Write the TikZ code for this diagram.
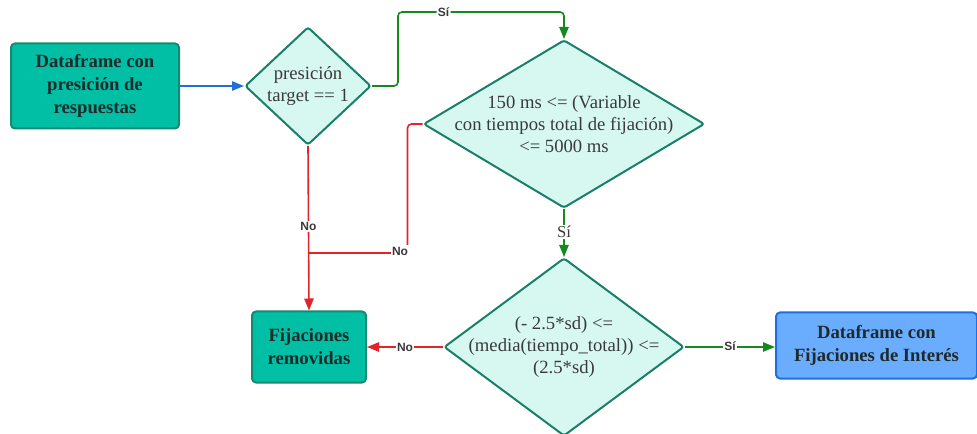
\documentclass[tikz,border=0pt]{standalone}
\usepackage{fontspec}
\setmainfont{Liberation Serif}
\newfontfamily\lblfont{Liberation Sans}
\usetikzlibrary{shapes.geometric,arrows.meta}

\definecolor{boxteal}{HTML}{00BFA5}
\definecolor{boxedge}{HTML}{168A70}
\definecolor{decfill}{HTML}{D6F8F1}
\definecolor{decedge}{HTML}{1A7F68}
\definecolor{outfill}{HTML}{6AADFF}
\definecolor{outedge}{HTML}{1E6FE0}
\definecolor{nored}{HTML}{E2232A}
\definecolor{yesgreen}{HTML}{14891E}
\definecolor{flowblue}{HTML}{2070D8}
\definecolor{textdark}{HTML}{1F2A2A}
\definecolor{textgray}{HTML}{3A3A3A}

\begin{document}
\begin{tikzpicture}[x=0.75pt,y=-0.75pt,
  procbox/.style={draw=boxedge, fill=boxteal, line width=1.5pt, rounded corners=3pt,
    inner sep=0pt, align=center, text=textdark,
    font=\fontsize{14}{17.25}\selectfont\bfseries},
  outbox/.style={procbox, draw=outedge, fill=outfill},
  decision/.style={diamond, draw=decedge, fill=decfill, line width=1.5pt,
    rounded corners=2pt, inner sep=0pt},
  dtext/.style={align=center, text=textgray, font=\fontsize{14}{16.5}\selectfont},
  conn/.style={line width=1.2pt, -{Triangle[length=9pt,width=7pt]}},
  yes/.style={conn, draw=yesgreen, -{Triangle[length=9pt,width=7pt,fill=yesgreen]}},
  no/.style={conn, draw=nored, -{Triangle[length=9pt,width=7pt,fill=nored]}},
  lbl/.style={fill=white, inner sep=1pt, text=textgray, font=\lblfont\fontsize{9}{10}\selectfont\bfseries},
  lblserif/.style={fill=white, inner sep=1pt, text=textgray, font=\fontsize{12.5}{14}\selectfont},
]
\useasboundingbox (0,0) rectangle (977,434);
\clip (0,0) rectangle (977,434);

% process boxes
\node[procbox, minimum width=126pt, minimum height=63.75pt] (df) at (95,86)
  {Dataframe con\\presición de\\respuestas};
\node[procbox, minimum width=85.5pt, minimum height=53.25pt] (fij) at (309,347)
  {Fijaciones\\removidas};
\node[outbox, minimum width=150.75pt, minimum height=49.5pt] (out) at (876.5,345.5)
  {Dataframe con\\Fijaciones de Interés};

% decisions
\node[decision, minimum width=94.5pt, minimum height=88.5pt] (d1) at (308,86)
  {};
\node[dtext] (d1t) at (d1.center) {presición\\target == 1};
\node[decision, minimum width=210.75pt, minimum height=126pt] (d2) at (564,124)
  {};
\node[dtext] (d2t) at (d2.center) {150 ms <= (Variable\\con tiempos total de fijación)\\<= 5000 ms};
\node[decision, minimum width=180pt, minimum height=133.5pt] (d3) at (564,347)
  {};
\node[dtext] (d3t) at (d3.center) {(- 2.5*sd) <=\\(media(tiempo\_total)) <=\\(2.5*sd)};

% bend and junction points
\coordinate (sitop) at (564,12);
\coordinate (merge) at (309,253);

% connectors
\draw[conn, draw=flowblue, -{Triangle[length=9pt,width=7pt,fill=flowblue]}] (df.east) -- (d1.west);
\draw[yes, rounded corners=3pt] (d1.east) -- ++(26,0) -- ++(0,-74)
  -- node[lbl, pos=0.275] {Sí} (sitop) -- (d2.north);
\draw[no] (d1.south) -- node[lbl, pos=0.49] {No} (fij.north);
\draw[line width=1.2pt, draw=nored, rounded corners=3pt] (d2.west) -- ++(-15,0)
  -- ++(0,129) -- (merge);
\node[lbl] (no2) at (400,251) {No};
\draw[yes] (d2.south) -- node[lblserif, pos=0.48] {Sí} (d3.north);
\draw[no] (d3.west) -- node[lbl, midway] {No} (fij.east |- d3.west);
\draw[yes] (d3.east) -- node[lbl, midway, yshift=1pt] {Sí} (out.west |- d3.east);
\end{tikzpicture}
\end{document}
